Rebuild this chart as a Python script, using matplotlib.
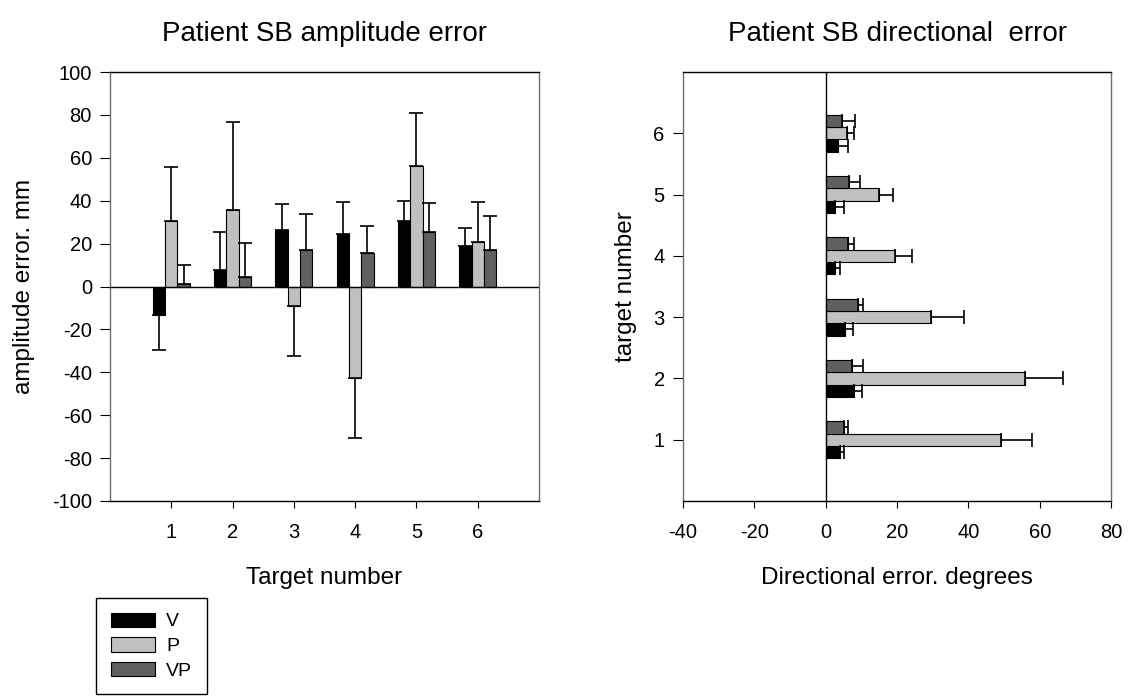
import numpy as np
import matplotlib
matplotlib.use('Agg')
import matplotlib.pyplot as plt

plt.rcParams['font.family'] = ['Liberation Sans', 'DejaVu Sans']
plt.rcParams['axes.unicode_minus'] = False

targets = [1, 2, 3, 4, 5, 6]
series = ['V', 'P', 'VP']
colors = ['#000000', '#c0c0c0', '#606060']

# amplitude error, mm (errors drawn on the side of the bar only)
amp_V = [-13.5, 7.8, 26.4, 24.6, 30.5, 19.0]
amp_V_err = [16.3, 17.4, 12.1, 14.6, 9.3, 8.5]
amp_P = [30.5, 35.6, -8.9, -42.7, 56.4, 20.8]
amp_P_err = [25.1, 41.3, 23.3, 27.7, 24.6, 18.8]
amp_VP = [1.1, 4.4, 16.9, 15.5, 25.3, 17.2]
amp_VP_err = [8.8, 16.1, 17.0, 12.9, 13.4, 15.6]

# directional error, degrees
dir_V = [4.0, 8.0, 5.5, 2.6, 2.6, 3.5]
dir_V_err = [1.3, 2.3, 2.2, 1.4, 2.6, 2.7]
dir_P = [49.2, 55.7, 29.5, 19.5, 15.0, 5.9]
dir_P_err = [8.6, 10.8, 9.3, 4.7, 4.0, 2.0]
dir_VP = [5.1, 7.3, 9.0, 6.3, 6.5, 4.6]
dir_VP_err = [1.3, 3.3, 1.6, 1.7, 3.2, 3.7]


def one_sided(vals, errs):
    vals = np.array(vals)
    errs = np.array(errs)
    lower = np.where(vals < 0, errs, 0)
    upper = np.where(vals >= 0, errs, 0)
    return [lower, upper]


W, H = 1132, 700
fig = plt.figure(figsize=(W / 100, H / 100), dpi=100)
ax1 = fig.add_axes([110 / W, 1 - 501 / H, 429 / W, 429 / H])
ax2 = fig.add_axes([682.7 / W, 1 - 501 / H, 428.6 / W, 429 / H])

bw = 0.2
offsets = [-bw, 0, bw]
err_kw = dict(capsize=5, elinewidth=1.2, capthick=1.2, ecolor='black')
tfs, lfs, kfs = 20, 17.5, 14.5

handles = []
amp = [(amp_V, amp_V_err), (amp_P, amp_P_err), (amp_VP, amp_VP_err)]
x = np.array(targets)
for (v, e), off, c, name in zip(amp, offsets, colors, series):
    b = ax1.bar(x + off, v, bw, color=c, edgecolor='black', linewidth=0.8,
                yerr=one_sided(v, e), error_kw=err_kw, label=name, zorder=2)
    handles.append(b)
ax1.axhline(0, color='black', lw=1, zorder=3)
ax1.set_xlim(0, 7)
ax1.set_ylim(-100, 100)
ax1.set_xticks(targets)
ax1.set_yticks(np.arange(-100, 101, 20))
ax1.set_xlabel('Target number', fontsize=lfs, labelpad=18)
ax1.set_ylabel('amplitude error. mm', fontsize=lfs, labelpad=12)
ax1.set_title('Patient SB amplitude error', fontsize=tfs, pad=22)
ax1.tick_params(axis='x', length=5, pad=11, labelsize=kfs)
ax1.tick_params(axis='y', length=7, pad=6, labelsize=kfs)

drc = [(dir_V, dir_V_err), (dir_P, dir_P_err), (dir_VP, dir_VP_err)]
for (v, e), off, c in zip(drc, offsets, colors):
    ax2.barh(x + off, v, bw, color=c, edgecolor='black', linewidth=0.8,
             xerr=one_sided(v, e), error_kw=err_kw, zorder=2)
ax2.axvline(0, color='black', lw=1, zorder=3)
ax2.set_xlim(-40, 80)
ax2.set_ylim(0, 7)
ax2.set_yticks(targets)
ax2.set_xticks(np.arange(-40, 81, 20))
ax2.set_xlabel('Directional error. degrees', fontsize=lfs, labelpad=18)
ax2.set_ylabel('target number', fontsize=lfs, labelpad=12)
ax2.set_title('Patient SB directional  error', fontsize=tfs, pad=22)
ax2.tick_params(axis='x', length=5, pad=11, labelsize=kfs)
ax2.tick_params(axis='y', length=7, pad=6, labelsize=kfs)

for ax in (ax1, ax2):
    ax.spines['left'].set_color('#707070')
    ax.spines['right'].set_color('#707070')
    for s in ax.spines.values():
        s.set_linewidth(1)

leg = fig.legend(handles, series, loc='upper left',
                 bbox_to_anchor=(96 / W, 1 - 598 / H), fontsize=14,
                 fancybox=False, edgecolor='black', framealpha=1,
                 handlelength=2.3, handleheight=0.75, labelspacing=0.35,
                 borderpad=0.75, handletextpad=0.55, borderaxespad=0)
leg.get_frame().set_linewidth(1)

fig.savefig('out.png', dpi=100)
